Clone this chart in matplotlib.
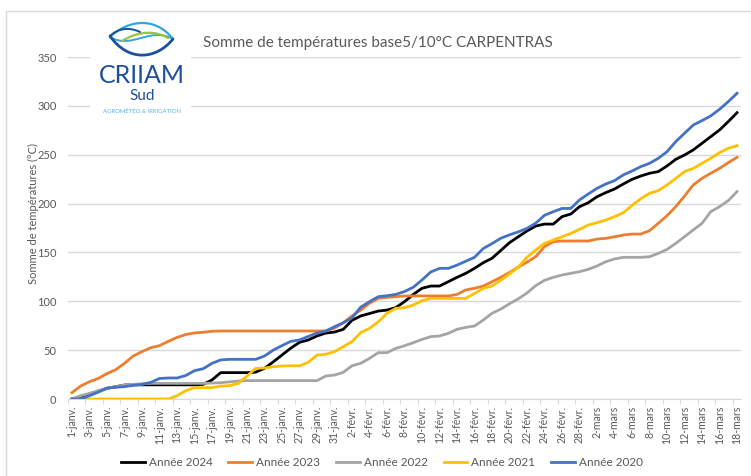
import numpy as np
import pandas as pd
import matplotlib
matplotlib.use("Agg")
import matplotlib.pyplot as plt
from matplotlib.path import Path
from matplotlib.patches import PathPatch, Rectangle

plt.rcParams['font.family'] = ['Lato', 'DejaVu Sans']

# ---------------- data ----------------
mois = {1: "janv.", 2: "févr.", 3: "mars"}
dates = pd.date_range("2023-01-01", "2023-03-18", freq="D")
tick_labels = [f"{d.day}-{mois[d.month]}" for d in dates]

annee_2024 = [0, 2.4, 5, 8, 11, 12.6, 14.3, 14.5, 14.5, 14.5, 14.5, 14.5, 14.5, 14.5, 14.5, 15,
              19.5, 27, 27, 27, 27, 27.5, 31.4, 38, 45, 52, 58, 60.4, 64.5, 67.5, 68.5, 71.3,
              80.5, 85, 87.5, 90, 91, 93.5, 99.6, 107, 113.3, 115.6, 115.6, 120, 124.5, 128.6,
              133.7, 139.5, 144, 152, 160, 166, 172, 177, 179, 179, 186.6, 189.3, 196.8, 200.9,
              207, 211.2, 214.9, 220, 224.8, 228.2, 231, 232.7, 238.5, 245.3, 249.7, 254.9,
              261.7, 268.5, 275.3, 283.9, 293]
annee_2023 = [6.5, 13.3, 17.7, 21, 26, 30, 36.5, 44, 48.5, 52.5, 54.6, 59, 63, 66, 67.6, 68.3,
              69.3, 69.6, 69.6, 69.6, 69.6, 69.6, 69.6, 69.6, 69.6, 69.6, 69.6, 69.6, 69.6, 69.6,
              72.5, 78, 85, 91, 98, 103, 104, 104.7, 105.4, 105.5, 105.5, 105.5, 105.5, 105.5,
              107, 111.6, 113.3, 115.6, 120, 124.5, 129.5, 135, 140, 145.7, 156, 161, 161.7,
              161.7, 161.7, 161.7, 163.7, 164.4, 166, 167.8, 168.8, 168.8, 172.3, 179.8, 187.6,
              196.8, 207.7, 219, 225.8, 231, 236, 241.9, 247.3]
annee_2022 = [0, 3.4, 5.8, 8.5, 11, 12.6, 14.3, 15, 15.5, 16, 16, 16, 16, 16, 16, 16, 16.3, 16.7,
              17.5, 18.4, 18.8, 18.8, 18.8, 18.8, 18.8, 18.8, 18.8, 18.8, 18.8, 23.5, 24.5, 27.3,
              34, 36.5, 41.6, 47.4, 47.4, 51.8, 54.5, 57.6, 61, 63.8, 64.5, 67.2, 71.3, 73.3,
              74.7, 80.8, 87.7, 92, 97.5, 102.5, 108.5, 116, 121.5, 124.5, 126.9, 128.6, 130.3,
              132.7, 136.1, 140.5, 143.3, 145, 145, 145, 145.6, 149, 153.1, 159.3, 166.1, 173,
              179.8, 191.7, 196.8, 203, 212.2]
annee_2021 = [0, 0, 0, 0, 0, 0, 0, 0, 0, 0, 0, 0, 3.4, 8.5, 11.6, 11.6, 11.6, 13.3, 13.7, 16,
              23.5, 31.4, 31.7, 33, 33.8, 34, 34, 37.5, 45, 45.7, 48.5, 53.5, 58.7, 68, 72.3, 79,
              87.7, 92.8, 93.5, 96.2, 100.6, 103, 103, 103, 103, 103, 108, 113.3, 115.6, 121.5,
              128, 135, 145, 152.5, 159.3, 162.7, 166, 169.5, 173.6, 178, 180.4, 183.2, 186.6,
              190.7, 198, 205, 210.5, 213.2, 219, 225.8, 232.7, 236, 241.2, 246.3, 252.1, 256.6,
              259.3]
annee_2020 = [0, 0, 3.4, 7, 11, 12, 12.6, 14, 15, 17, 21, 21.5, 21.5, 24, 29, 31, 36.5, 40, 40.6,
              40.6, 40.6, 40.6, 44, 50, 54.6, 59, 60.4, 64, 67.5, 69.5, 74, 78, 83, 94, 99.6,
              104.7, 105.7, 107, 110, 114.3, 121.8, 130, 133.7, 133.7, 137, 141, 145, 154, 159,
              164.5, 168, 171, 174.6, 180, 188, 191.7, 195, 195, 203.7, 209.8, 215.6, 220, 223.5,
              229.3, 233.3, 237.8, 241.2, 246.3, 253.1, 263.4, 271.9, 280.4, 284.9, 289.7, 296.5,
              304.3, 312.9]

series = [("Année 2024", annee_2024, "#000000"),
          ("Année 2023", annee_2023, "#ED7D31"),
          ("Année 2022", annee_2022, "#A5A5A5"),
          ("Année 2021", annee_2021, "#FFC000"),
          ("Année 2020", annee_2020, "#4472C4")]

# ---------------- figure ----------------
W, H = 751, 476
fig = plt.figure(figsize=(W / 100, H / 100), dpi=100)
ax = fig.add_axes([67.6 / W, 1 - 399 / H, (741.4 - 67.6) / W, (399 - 57) / H])

x = np.arange(len(tick_labels))
for name, vals, col in series:
    ax.plot(x, vals, color=col, lw=2.0, label=name, solid_joinstyle="round", zorder=3)

ax.set_xlim(-0.5, len(tick_labels) - 0.5)
ax.set_ylim(0, 350)
ax.set_yticks(np.arange(0, 351, 50))
ax.grid(axis="y", color="#D9D9D9", lw=1)
ax.set_axisbelow(True)
for s in ["top", "right", "left"]:
    ax.spines[s].set_visible(False)
ax.spines["bottom"].set_color("#D9D9D9")
ax.tick_params(axis="y", length=0, pad=8, labelsize=8, labelcolor="#595959")

ax.set_xticks(x[::2])
ax.set_xticklabels(tick_labels[::2], rotation=90, fontsize=7.6, color="#595959")
ax.set_xticks(np.arange(-0.5, len(tick_labels), 2), minor=True)
ax.tick_params(axis="x", which="major", length=0, pad=5)
ax.tick_params(axis="x", which="minor", length=3.5, color="#D9D9D9", width=0.8)

fig.text(33 / W, 1 - 214 / H, "Somme de températures (°C)", rotation=90, ha="center",
         va="center", fontsize=8, color="#595959")
fig.text(378 / W, 1 - 43 / H, "Somme de températures base5/10°C CARPENTRAS", ha="center",
         va="center", fontsize=11, color="#595959")

leg = fig.legend(loc="center", bbox_to_anchor=(382 / W, 1 - 463 / H), ncol=5, frameon=False,
                 fontsize=8.5, handlelength=2.0, handletextpad=0.35, columnspacing=1.35)
for t in leg.get_texts():
    t.set_color("#595959")

# chart area border
over = fig.add_axes([0, 0, 1, 1], zorder=10)
over.set_xlim(0, W)
over.set_ylim(H, 0)
over.axis("off")
over.patch.set_alpha(0)
over.plot([6, 6, W + 5], [H + 5, 11, 11], color="#D9D9D9", lw=1)

# logo
over.add_patch(Rectangle((90, 18), 101, 100, facecolor="white", edgecolor="none"))

def curve(pts, col, lw):
    codes = [Path.MOVETO] + [Path.CURVE4] * (len(pts) - 1)
    over.add_patch(PathPatch(Path(pts, codes), facecolor="none", edgecolor=col, lw=lw,
                             capstyle="round"))

curve([(110, 37), (128, 20), (155, 16), (173, 39)], "#2FA8DF", 1.6)
curve([(110, 37), (132, 50), (150, 26), (173, 39)], "#2FA8DF", 1.4)
curve([(122, 41), (140, 30), (156, 31), (168, 38)], "#9DC33B", 1.6)
curve([(110, 36), (128, 62), (156, 60), (173, 39)], "#1C4F9C", 2.0)
curve([(110, 36), (118, 28), (130, 27), (140, 32)], "#1C4F9C", 1.4)

over.text(142, 83, "CRIIAM", ha="center", va="baseline", fontsize=18, color="#1C4F9C")
over.text(142, 88.5, "Sud", ha="center", va="top", fontsize=11, color="#1C4F9C")
over.text(142, 111, "AGROMÉTÉO & IRRIGATION", ha="center", va="center", fontsize=4.3,
          color="#5BB5E5")

fig.savefig("out.png", dpi=100)
